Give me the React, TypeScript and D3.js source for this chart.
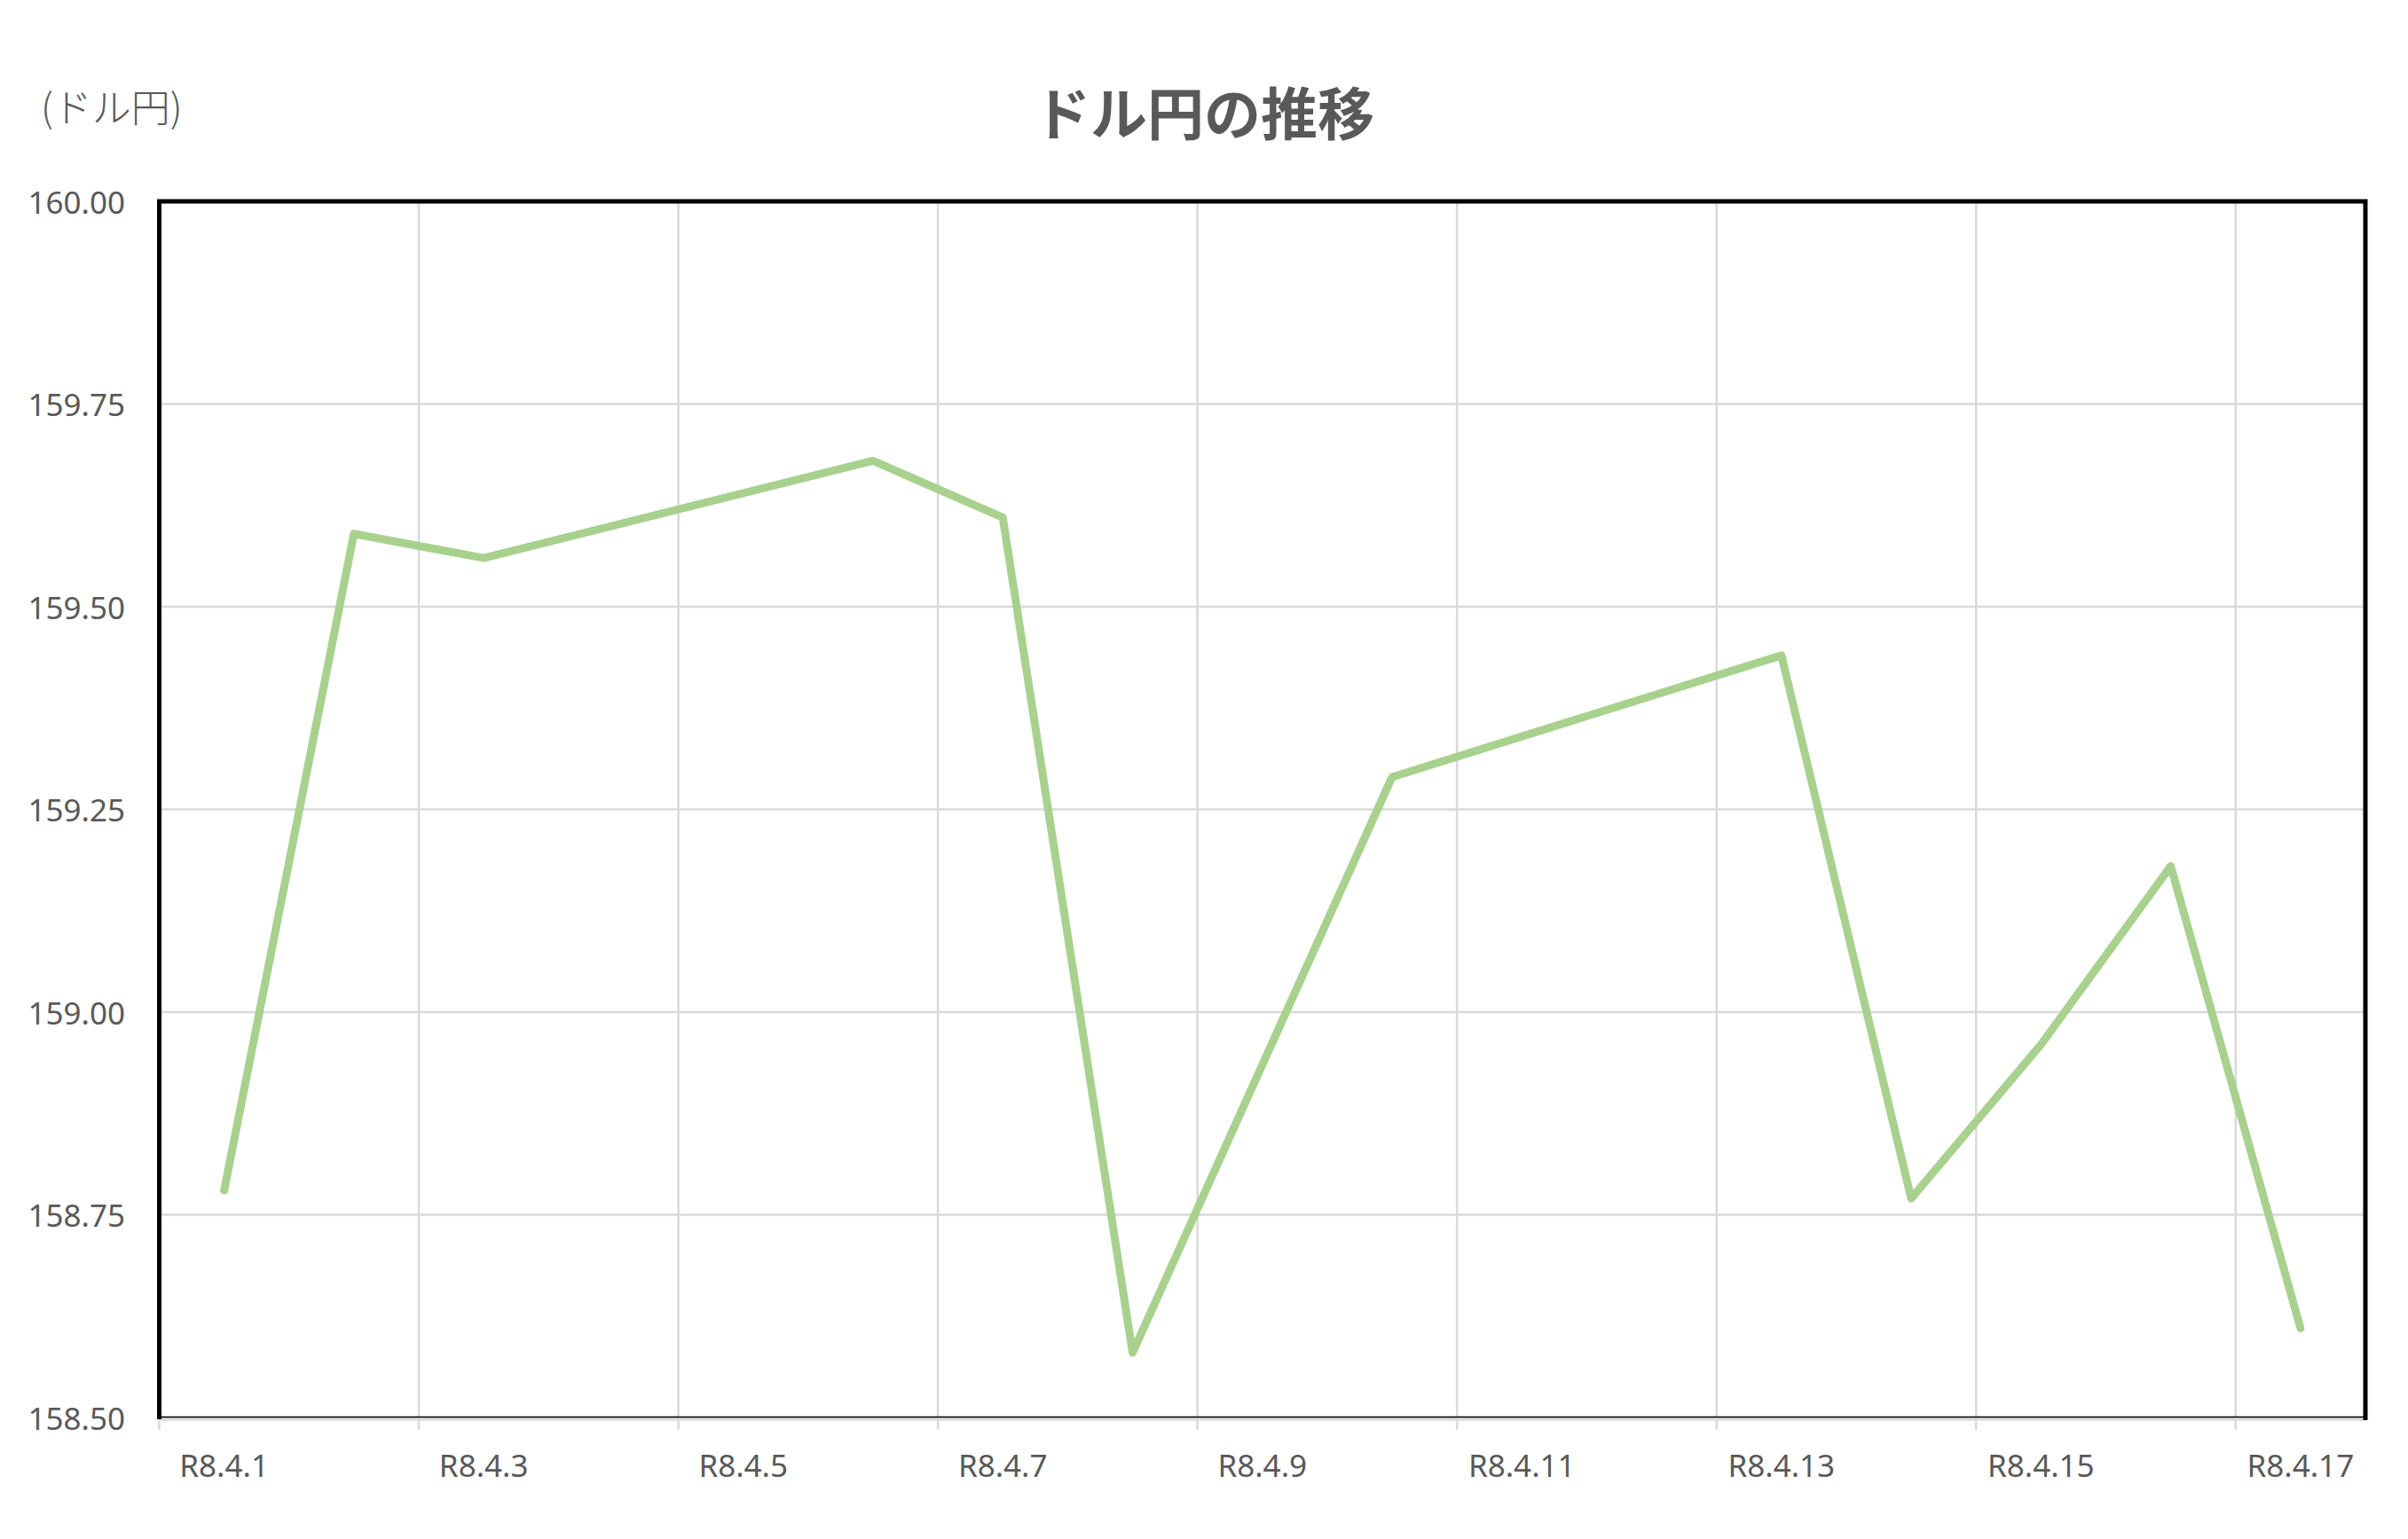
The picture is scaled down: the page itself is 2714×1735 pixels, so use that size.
import React from "react";
import * as d3 from "d3";

const categories: string[] = [
  "R8.4.1", "R8.4.2", "R8.4.3", "R8.4.4", "R8.4.5", "R8.4.6", "R8.4.7", "R8.4.8", "R8.4.9",
  "R8.4.10", "R8.4.11", "R8.4.12", "R8.4.13", "R8.4.14", "R8.4.15", "R8.4.16", "R8.4.17",
];
const usdJpy: (number | null)[] = [
  158.78, 159.59, 159.56, null, null, 159.68, 159.61, 158.58, null,
  159.29, null, null, 159.44, 158.77, 158.96, 159.18, 158.61,
];
const yTicks: number[] = [158.5, 158.75, 159.0, 159.25, 159.5, 159.75, 160.0];
const title = "ドル円の推移";
const yUnit = "(ドル円)";

const W = 2714;
const H = 1735;
const M = { left: 179.5, right: 2666, top: 227, bottom: 1598 };
const TEXT = "#595959";
const GRID = "#d9d9d9";
const LINE = "#a9d18e";
const NUM_FONT = "'Noto Sans', 'Open Sans', sans-serif";
const CJK_FONT = "'Noto Sans CJK JP', 'Noto Sans', sans-serif";

export default function App() {
  const x = d3.scaleBand<string>().domain(categories).range([M.left, M.right]).padding(0);
  const y = d3.scaleLinear().domain([158.5, 160]).range([M.bottom, M.top]);
  const bw = x.bandwidth();

  const pts = categories
    .map((c, i) => ({ c, v: usdJpy[i] }))
    .filter((d) => d.v !== null) as { c: string; v: number }[];
  const line = d3
    .line<{ c: string; v: number }>()
    .x((d) => (x(d.c) as number) + bw / 2)
    .y((d) => y(d.v));

  const evenCats = categories.filter((_, i) => i % 2 === 0);

  return (
    <div style={{ position: "absolute", left: 0, top: 0 }}>
      <svg width={W} height={H} style={{ display: "block", background: "#fff" }}>
        <rect x={0} y={0} width={W} height={H} fill="#fff" />
        {/* horizontal gridlines */}
        {yTicks.map((t) => (
          <line key={"h" + t} x1={M.left} x2={M.right} y1={y(t)} y2={y(t)} stroke={GRID} strokeWidth={2.5} />
        ))}
        {/* vertical gridlines every 2 categories */}
        {evenCats.map((c) => (
          <line key={"v" + c} x1={x(c) as number} x2={x(c) as number} y1={M.top} y2={M.bottom} stroke={GRID} strokeWidth={2.5} />
        ))}
        {/* x-axis line and ticks */}
        <line x1={M.left} x2={M.right} y1={M.bottom + 2.5} y2={M.bottom + 2.5} stroke={GRID} strokeWidth={2.5} />
        {evenCats.map((c) => (
          <line key={"t" + c} x1={x(c) as number} x2={x(c) as number} y1={M.bottom} y2={M.bottom + 14} stroke={GRID} strokeWidth={2.5} />
        ))}
        {/* plot border */}
        <path
          d={`M${M.left},${M.bottom + 2} L${M.left},${M.top} L${M.right},${M.top} L${M.right},${M.bottom + 3}`}
          fill="none"
          stroke="#000"
          strokeWidth={5}
        />
        <line x1={M.left} x2={M.right} y1={M.bottom - 0.5} y2={M.bottom - 0.5} stroke="#000" strokeWidth={1.5} />
        {/* data line */}
        <path d={line(pts) || ""} fill="none" stroke={LINE} strokeWidth={9} strokeLinejoin="round" strokeLinecap="round" />
        {/* y labels */}
        {yTicks.map((t) => (
          <text
            key={"yl" + t}
            x={141}
            y={y(t)}
            textAnchor="end"
            dominantBaseline="central"
            fontFamily={NUM_FONT}
            fontSize={35}
            fill={TEXT}
          >
            {t.toFixed(2)}
          </text>
        ))}
        {/* x labels */}
        {evenCats.map((c) => (
          <text
            key={"xl" + c}
            x={(x(c) as number) + bw / 2}
            y={1665}
            textAnchor="middle"
            fontFamily={NUM_FONT}
            fontSize={35}
            fill={TEXT}
          >
            {c}
          </text>
        ))}
        {/* title */}
        <text x={1357} y={152} textAnchor="middle" fontFamily={CJK_FONT} fontWeight={700} fontSize={64} fill={TEXT}>
          {title}
        </text>
        {/* unit label */}
        <text x={46} y={119} dominantBaseline="central" fontFamily={CJK_FONT} fontWeight={300} fontSize={44} fill={TEXT}>
          {yUnit}
        </text>
      </svg>
    </div>
  );
}
